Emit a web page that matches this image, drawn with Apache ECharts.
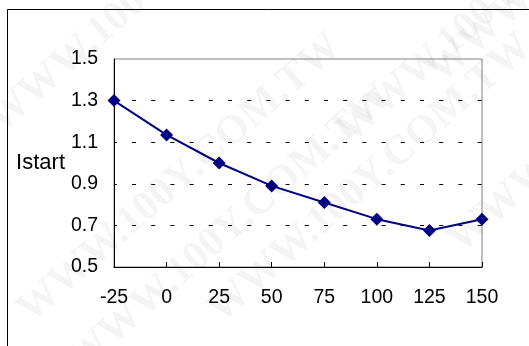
<!DOCTYPE html>
<html>
<head>
<meta charset="utf-8">
<script src="https://cdn.jsdelivr.net/npm/echarts@6/dist/echarts.min.js"></script>
<style>
html,body{margin:0;padding:0;background:#fff;}
#c{width:529px;height:346px;}
</style>
</head>
<body>
<div id="c"></div>
<script>
const temps = [-25, 0, 25, 50, 75, 100, 125, 150];
const istart = [1.30, 1.135, 1.00, 0.89, 0.81, 0.73, 0.675, 0.73];
const yLabel = 'Istart';
const watermark = 'WWW.100Y.COM.TW';

const chart = echarts.init(document.getElementById('c'), null, {renderer: 'canvas'});
const font = 'Liberation Sans, Arial, sans-serif';
const wm = (x, y) => ({
  type: 'text', x: x, y: y, rotation: 0.72, z: -10, silent: true,
  style: {text: watermark, font: 'bold 42px "Liberation Serif", serif', fill: 'rgba(0,0,0,0.045)'}
});
chart.setOption({
  animation: false,
  backgroundColor: '#fff',
  grid: {left: 114, top: 59, width: 368, height: 208, show: true, borderColor: '#808080', borderWidth: 1, containLabel: false},
  xAxis: {
    type: 'value', min: -25, max: 150, interval: 25,
    axisLine: {show: true, onZero: false, lineStyle: {color: '#000', width: 1}},
    axisTick: {show: true, inside: true, length: 5, lineStyle: {color: '#000'}},
    axisLabel: {color: '#000', fontSize: 19.5, fontFamily: font, margin: 21},
    splitLine: {show: false}
  },
  yAxis: {
    type: 'value', min: 0.5, max: 1.5, interval: 0.2,
    name: yLabel, nameLocation: 'middle', nameRotate: 0, nameGap: 39,
    nameTextStyle: {color: '#000', fontSize: 22, fontFamily: font, padding: [0, 0, 42, 0]},
    axisLine: {show: true, onZero: false, lineStyle: {color: '#000', width: 1}},
    axisTick: {show: false},
    axisLabel: {color: '#000', fontSize: 19.5, fontFamily: font, margin: 16,
      formatter: v => v.toFixed(1)},
    splitLine: {show: true, showMinLine: false, showMaxLine: false,
      lineStyle: {color: '#000', width: 1, type: [4, 15.2], dashOffset: 1.2}}
  },
  series: [{
    type: 'line',
    data: temps.map((t, i) => [t, istart[i]]),
    symbol: 'diamond', symbolSize: 13,
    lineStyle: {color: '#000080', width: 2},
    itemStyle: {color: '#000080'},
    z: 5
  }],
  graphic: [
    {type: 'polyline', silent: true, shape: {points: [[7.5, 346], [7.5, 9.5], [529, 9.5]]}, style: {stroke: '#000', lineWidth: 1, fill: null}},
    wm(-20, 110), wm(10, 300), wm(60, 350), wm(200, 300), wm(330, 120), wm(420, 60), wm(440, 230)
  ]
});
</script>
</body>
</html>
